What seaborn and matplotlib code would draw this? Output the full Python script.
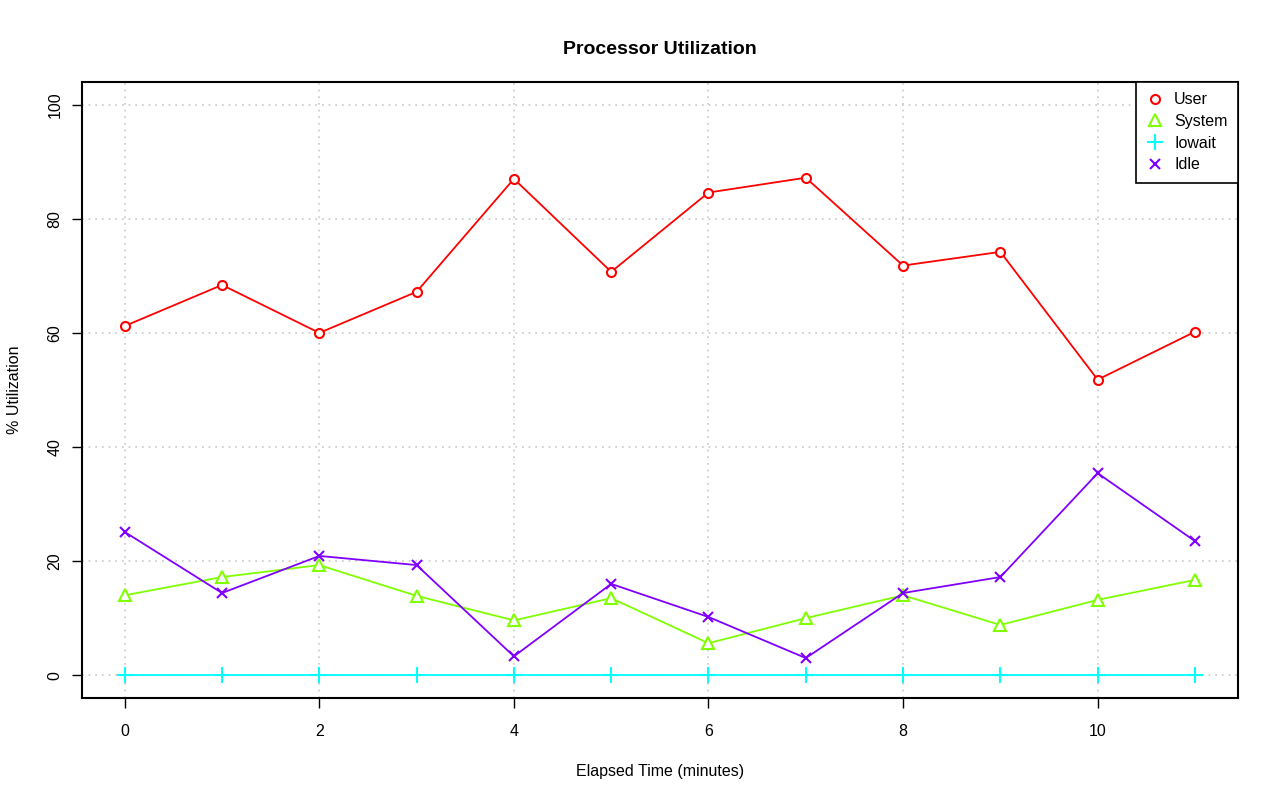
import numpy as np
import pandas as pd
import seaborn as sns
import matplotlib.pyplot as plt

minutes = list(range(12))
user = [61.2, 68.4, 60.0, 67.2, 87.0, 70.7, 84.6, 87.2, 71.8, 74.2, 51.8, 60.2]
system = [14.0, 17.2, 19.3, 13.9, 9.6, 13.5, 5.6, 10.0, 14.0, 8.8, 13.2, 16.7]
iowait = [0.0] * 12
idle = [25.1, 14.4, 20.9, 19.3, 3.3, 16.0, 10.2, 3.0, 14.4, 17.2, 35.4, 23.5]

series = [
    ('User', user, '#ff0000', 'o', 6.5),
    ('System', system, '#80ff00', '^', 8),
    ('Iowait', iowait, '#00ffff', '+', 11),
    ('Idle', idle, '#8000ff', 'x', 7),
]

sns.set_style('white')
plt.rcParams['font.family'] = ['Liberation Sans', 'DejaVu Sans']
plt.rcParams['text.color'] = 'black'
plt.rcParams['axes.labelcolor'] = 'black'
plt.rcParams['xtick.color'] = 'black'
plt.rcParams['ytick.color'] = 'black'

fig = plt.figure(figsize=(12.8, 8.01), dpi=100)
ax = fig.add_axes([0.064, 0.1286, 0.903, 0.7692])

for name, vals, color, marker, ms in series:
    df = pd.DataFrame({'t': minutes, 'v': vals})
    sns.lineplot(data=df, x='t', y='v', ax=ax, color=color, marker=marker,
                 markersize=ms, markerfacecolor='white', markeredgecolor=color,
                 markeredgewidth=1.5, linewidth=1.3, label=name, zorder=3)

ax.set_xlim(-0.44, 11.44)
ax.set_ylim(-4, 104)
ax.set_xticks([0, 2, 4, 6, 8, 10])
ax.set_yticks([0, 20, 40, 60, 80, 100])
ax.tick_params(axis='both', direction='out', length=7, width=1, labelsize=11.5,
               colors='black', bottom=True, left=True)
ax.tick_params(axis='x', pad=12)
ax.tick_params(axis='y', pad=7)
plt.setp(ax.get_yticklabels(), rotation=90, va='center')
ax.grid(True, color='#c8c8c8', linestyle=(0, (1, 3)), linewidth=1.2)
for s in ax.spines.values():
    s.set_color('black')
    s.set_linewidth(1.5)

ax.set_xlabel('Elapsed Time (minutes)', fontsize=11.5, labelpad=18)
ax.set_ylabel('% Utilization', fontsize=11.5, labelpad=18)
ax.set_title('Processor Utilization', fontsize=14, fontweight='bold', pad=20,
             color='black')

leg = ax.legend(loc='upper right', frameon=True, fancybox=False, borderaxespad=0,
                fontsize=11.5, handlelength=1.0, handletextpad=0.7,
                labelspacing=0.42, borderpad=0.65, framealpha=1)
leg.get_frame().set_edgecolor('black')
leg.get_frame().set_linewidth(1.2)
for line in leg.get_lines():
    line.set_linestyle('none')

fig.savefig('out.png', dpi=100)
